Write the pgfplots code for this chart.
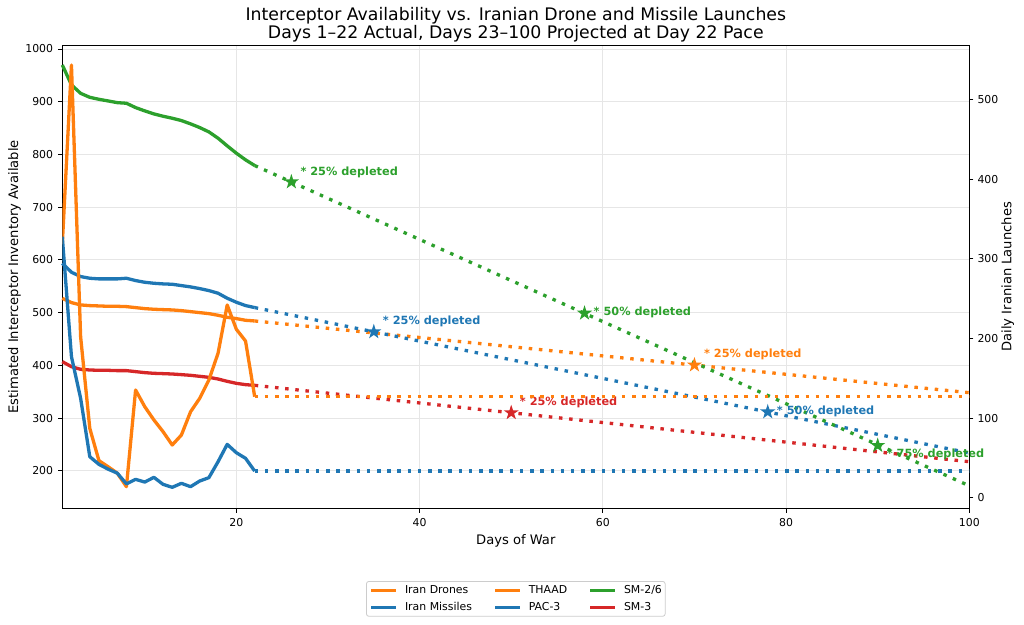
\documentclass[border=0pt]{standalone}
\usepackage{fontspec}
\setmainfont{DejaVu Sans}
\usepackage{pgfplots}
\pgfplotsset{compat=1.18}

\definecolor{tblue}{HTML}{1F77B4}
\definecolor{torange}{HTML}{FF7F0E}
\definecolor{tgreen}{HTML}{2CA02C}
\definecolor{tred}{HTML}{D62728}
\definecolor{gridc}{HTML}{E6E6E6}
\definecolor{legframe}{HTML}{CCCCCC}

\pgfdeclareplotmark{fstar}{%
  \pgfpathmoveto{\pgfpointpolar{90}{\pgfplotmarksize}}%
  \pgfpathlineto{\pgfpointpolar{126}{0.382\pgfplotmarksize}}%
  \pgfpathlineto{\pgfpointpolar{162}{\pgfplotmarksize}}%
  \pgfpathlineto{\pgfpointpolar{198}{0.382\pgfplotmarksize}}%
  \pgfpathlineto{\pgfpointpolar{234}{\pgfplotmarksize}}%
  \pgfpathlineto{\pgfpointpolar{270}{0.382\pgfplotmarksize}}%
  \pgfpathlineto{\pgfpointpolar{306}{\pgfplotmarksize}}%
  \pgfpathlineto{\pgfpointpolar{342}{0.382\pgfplotmarksize}}%
  \pgfpathlineto{\pgfpointpolar{18}{\pgfplotmarksize}}%
  \pgfpathlineto{\pgfpointpolar{54}{0.382\pgfplotmarksize}}%
  \pgfpathclose
  \pgfusepathqfill
}

\tikzset{
  solidln/.style={line width=3.3pt, line join=round},
  dotln/.style={line width=3.3pt, dash pattern=on 3.5pt off 6.7pt},
  annot/.style={anchor=west, inner sep=0pt, font=\fontsize{11.3}{13}\selectfont\bfseries},
}
\pgfplotsset{
  starmk/.style={only marks, mark=fstar, mark size=8pt},
}

\begin{document}
\begin{tikzpicture}
\begin{axis}[
  at={(0pt,0pt)}, anchor=south west,
  scale only axis, width=907pt, height=463.5pt,
  xmin=1, xmax=100, ymin=128.5, ymax=1007.6,
  xtick={20,40,60,80,100}, ytick={200,300,400,500,600,700,800,900,1000},
  xtick pos=bottom, ytick pos=left,
  tick align=outside, major tick length=4pt,
  tick style={black, line width=0.9pt},
  axis line style={line width=0.9pt},
  grid=major, major grid style={gridc, line width=0.9pt},
  tick label style={font=\fontsize{10.9}{13}\selectfont},
  /pgf/number format/assume math mode=true,
  /pgf/number format/1000 sep={},
  xticklabel style={inner sep=0pt, anchor=north, yshift=-5.5pt},
  yticklabel style={inner sep=0pt, anchor=east, xshift=-5pt},
  clip=false,
]
% THAAD
\addplot[torange, solidln] coordinates {
(1,527.2)(2,519.0)(3,514.6)(4,513.3)(5,512.7)(6,512.0)(7,512.0)(8,511.4)(9,509.5)(10,507.6)
(11,506.4)(12,505.7)(13,505.1)(14,503.8)(15,501.9)(16,500.0)(17,498.1)(18,495.0)(19,491.2)(20,488.7)
(21,485.5)(22,484.2)};
\addplot[torange, dotln] coordinates {(22,484.2)(100,348.2)};
% PAC-3
\addplot[tblue, solidln] coordinates {
(1,593.6)(2,576.6)(3,568.4)(4,565.2)(5,564.0)(6,564.0)(7,564.0)(8,565.2)(9,560.8)(10,557.6)
(11,555.7)(12,554.5)(13,553.8)(14,551.3)(15,548.8)(16,545.6)(17,541.8)(18,536.8)(19,527.3)(20,519.7)
(21,513.4)(22,509.6)};
\addplot[tblue, dotln] coordinates {(22,509.6)(100,233.8)};
% SM-2/6
\addplot[tgreen, solidln] coordinates {
(1,969.7)(2,932.0)(3,915.9)(4,908.4)(5,904.6)(6,901.5)(7,898.3)(8,897.1)(9,888.9)(10,882.6)
(11,876.9)(12,872.5)(13,868.7)(14,864.3)(15,858.0)(16,851.0)(17,842.8)(18,830.8)(19,816.3)(20,802.4)
(21,789.8)(22,779.0)};
\addplot[tgreen, dotln] coordinates {(22,779.0)(100,171.5)};
% SM-3
\addplot[tred, solidln] coordinates {
(1,407.0)(2,397.5)(3,392.5)(4,391.2)(5,390.6)(6,390.6)(7,390.0)(8,390.0)(9,388.1)(10,386.2)
(11,384.9)(12,384.3)(13,383.6)(14,382.4)(15,381.1)(16,379.2)(17,377.3)(18,374.1)(19,369.7)(20,365.9)
(21,363.4)(22,362.1)};
\addplot[tred, dotln] coordinates {(22,362.1)(100,217.3)};
% depletion stars
\addplot[tgreen, starmk] coordinates {(26,747.9)(58,498.9)(90,248.0)};
\addplot[tblue, starmk] coordinates {(35,463.6)(78,311.6)};
\addplot[torange, starmk] coordinates {(70,400.6)};
\addplot[tred, starmk] coordinates {(50,310.1)};
\node[annot, text=tgreen, xshift=9pt, yshift=10pt] at (axis cs:26,747.9) {* 25\% depleted};
\node[annot, text=tgreen, xshift=9pt, yshift=1pt] at (axis cs:58,498.9) {* 50\% depleted};
\node[annot, text=tgreen, xshift=9pt, yshift=-9pt] at (axis cs:90,248.0) {* 75\% depleted};
\node[annot, text=tblue, xshift=9pt, yshift=10.5pt] at (axis cs:35,463.6) {* 25\% depleted};
\node[annot, text=tblue, xshift=9pt, yshift=1pt] at (axis cs:78,311.6) {* 50\% depleted};
\node[annot, text=torange, xshift=9.5pt, yshift=10.5pt] at (axis cs:70,400.6) {* 25\% depleted};
\node[annot, text=tred, xshift=8.5pt, yshift=10.5pt] at (axis cs:50,310.1) {* 25\% depleted};
\end{axis}

\begin{axis}[
  at={(0pt,0pt)}, anchor=south west,
  scale only axis, width=907pt, height=463.5pt,
  xmin=1, xmax=100, ymin=-13.4, ymax=568.3,
  axis x line=none, axis y line*=right,
  ytick={0,100,200,300,400,500},
  tick align=outside, major tick length=4pt,
  tick style={black, line width=0.9pt},
  axis line style={line width=0.9pt},
  tick label style={font=\fontsize{10.9}{13}\selectfont},
  /pgf/number format/assume math mode=true,
  yticklabel style={inner sep=0pt, anchor=west, xshift=4pt},
  legend columns=3, legend cell align=left,
  legend image code/.code={\draw[#1] (0pt,0pt) -- (25pt,0pt);},
  legend style={
    at={(0.5,0)}, anchor=north, yshift=-72.5pt,
    draw=legframe, line width=0.8pt, rounded corners=2.5pt, fill=white,
    inner xsep=3.3pt, inner ysep=3.7pt,
    font=\fontsize{10.9}{13}\selectfont,
    row sep=5.7pt,
    nodes={inner sep=0pt, text height=8.3pt, text depth=2.6pt},
    /tikz/every odd column/.append style={column sep=7pt},
    /tikz/every even column/.append style={column sep=21.5pt},
  },
]
% Iran drones
\addplot[torange, solidln, forget plot] coordinates {
(1,318)(2,543.2)(3,202.2)(4,87.2)(5,46.6)(6,39.0)(7,31.0)(8,14.0)(9,135.3)(10,114.4)
(11,97.7)(12,83.0)(13,66.3)(14,78.8)(15,108.0)(16,124.9)(17,147.9)(18,181.4)(19,242.0)(20,211.5)
(21,196.8)(22,126.9)};
\addplot[torange, dotln, forget plot] coordinates {(22,126.9)(100,126.9)};
% Iran missiles
\addplot[tblue, solidln, forget plot] coordinates {
(1,327.7)(2,177.1)(3,124.9)(4,51.6)(5,42.0)(6,36.0)(7,31.0)(8,17.5)(9,23.2)(10,19.8)
(11,25.7)(12,16.9)(13,13.2)(14,18.2)(15,14.0)(16,21.1)(17,25.3)(18,45.3)(19,67.1)(20,56.6)
(21,49.6)(22,33.6)};
\addplot[tblue, dotln, forget plot] coordinates {(22,33.6)(100,33.6)};
\addlegendimage{torange, solidln}\addlegendentry{Iran Drones}
\addlegendimage{torange, solidln}\addlegendentry{THAAD}
\addlegendimage{tgreen, solidln}\addlegendentry{SM-2/6}
\addlegendimage{tblue, solidln}\addlegendentry{Iran Missiles}
\addlegendimage{tblue, solidln}\addlegendentry{PAC-3}
\addlegendimage{tred, solidln}\addlegendentry{SM-3}
\end{axis}

\node[font=\fontsize{17.3}{20}\selectfont, anchor=base, inner sep=0pt] at (453.5pt,487.8pt) {Interceptor Availability vs. Iranian Drone and Missile Launches};
\node[font=\fontsize{17.3}{20}\selectfont, anchor=base, inner sep=0pt] at (453.5pt,470.2pt) {Days 1–22 Actual, Days 23–100 Projected at Day 22 Pace};
\node[font=\fontsize{13.1}{15}\selectfont, anchor=base, inner sep=0pt] at (453.5pt,-35.8pt) {Days of War};
\node[font=\fontsize{13.1}{15}\selectfont, anchor=base, inner sep=0pt, rotate=90] at (-44.2pt,231.75pt) {Estimated Interceptor Inventory Available};
\node[font=\fontsize{13.1}{15}\selectfont, anchor=base, inner sep=0pt, rotate=90] at (949pt,231.75pt) {Daily Iranian Launches};

\pgfresetboundingbox
\useasboundingbox (-62.3pt,-115.5pt) rectangle (961.7pt,508.5pt);
\end{tikzpicture}
\end{document}
